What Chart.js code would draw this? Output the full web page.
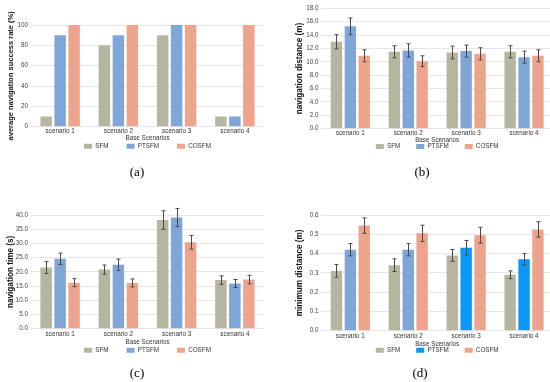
<!DOCTYPE html>
<html><head><meta charset="utf-8">
<script src="https://cdn.jsdelivr.net/npm/chart.js@4/dist/chart.umd.min.js"></script>
<style>
html,body{margin:0;padding:0;background:#fff;}
body{width:550px;height:382px;overflow:hidden;position:relative;}
canvas{position:absolute;}
.cap{position:absolute;width:60px;text-align:center;font-family:"Liberation Serif","DejaVu Serif",serif;font-size:13px;line-height:14px;color:#000;}
</style></head><body>
<canvas id="ca" width="275" height="176" style="left:0;top:0"></canvas>
<canvas id="cb" width="280" height="176" style="left:275px;top:0"></canvas>
<canvas id="cc" width="275" height="190" style="left:0;top:190px"></canvas>
<canvas id="cd" width="280" height="190" style="left:275px;top:190px"></canvas>
<div class="cap" style="left:107px;top:165px">(a)</div>
<div class="cap" style="left:392px;top:165px">(b)</div>
<div class="cap" style="left:107px;top:366px">(c)</div>
<div class="cap" style="left:390px;top:366px">(d)</div>
<script>
const categories = ['scenario 1', 'scenario 2', 'scenario 3', 'scenario 4'];
const seriesNames = ['SFM', 'PTSFM', 'COSFM'];
const xTitle = 'Base Scenarios';

// (a) average navigation success rate (%)
const successSFM   = [10, 80, 90, 10];
const successPTSFM = [90, 90, 100, 10];
const successCOSFM = [100, 100, 100, 100];
const successTicks = [0, 20, 40, 60, 80, 100];

// (b) navigation distance (m)
const distSFM      = [13.0, 11.5, 11.4, 11.5];
const distSFMErr   = [1.05, 0.9, 0.95, 0.9];
const distPTSFM    = [15.3, 11.7, 11.6, 10.7];
const distPTSFMErr = [1.25, 1.0, 0.9, 0.9];
const distCOSFM    = [10.9, 10.1, 11.2, 10.9];
const distCOSFMErr = [0.9, 0.8, 0.9, 0.9];
const distTicks = [0, 2, 4, 6, 8, 10, 12, 14, 16, 18];

// (c) navigation time (s)
const timeSFM      = [21.5, 20.8, 38.2, 17.1];
const timeSFMErr   = [2.1, 1.6, 3.3, 1.5];
const timePTSFM    = [24.6, 22.5, 39.1, 15.9];
const timePTSFMErr = [2.0, 2.0, 3.2, 1.4];
const timeCOSFM    = [16.2, 16.1, 30.4, 17.3];
const timeCOSFMErr = [1.4, 1.4, 2.4, 1.5];
const timeTicks = [0, 5, 10, 15, 20, 25, 30, 35, 40];

// (d) minimum distance (m)
const minSFM      = [0.31, 0.34, 0.39, 0.29];
const minSFMErr   = [0.033, 0.033, 0.031, 0.02];
const minPTSFM    = [0.42, 0.42, 0.43, 0.37];
const minPTSFMErr = [0.032, 0.032, 0.038, 0.03];
const minCOSFM    = [0.545, 0.505, 0.495, 0.525];
const minCOSFMErr = [0.04, 0.042, 0.041, 0.04];
const minTicks = [0, 0.1, 0.2, 0.3, 0.4, 0.5, 0.6];

const colSFM = '#b6b5a0', colPT = '#7fa6d6', colCO = '#eea48c', colPTbright = '#0a97f7';
const F = '"Liberation Sans", Arial, sans-serif';

function ds(label, data, errors, color, legendColor) {
  return {label, data, errors, backgroundColor: color, legendColor: legendColor || color,
    borderWidth: 0, categoryPercentage: 0.72, barPercentage: 0.82};
}

const errorBars = {
  id: 'errorBars',
  afterDatasetsDraw(chart) {
    const ctx = chart.ctx, y = chart.scales.y;
    chart.data.datasets.forEach((d, i) => {
      if (!d.errors) return;
      chart.getDatasetMeta(i).data.forEach((bar, j) => {
        const v = d.data[j], e = d.errors[j];
        const top = y.getPixelForValue(v + e), bot = y.getPixelForValue(v - e);
        const x = Math.round(bar.x) + 0.5;
        ctx.save();
        ctx.strokeStyle = '#4a4a4a'; ctx.lineWidth = 1;
        ctx.beginPath();
        ctx.moveTo(x, top); ctx.lineTo(x, bot);
        ctx.moveTo(x - 2, top); ctx.lineTo(x + 2, top);
        ctx.moveTo(x - 2, bot); ctx.lineTo(x + 2, bot);
        ctx.stroke();
        ctx.restore();
      });
    });
  }
};

const legendShift = {
  id: 'legendShift',
  afterLayout(chart, args, opts) {
    const lg = chart.legend;
    if (lg && opts.shift) { lg.top -= opts.shift; lg.bottom -= opts.shift; }
  }
};

function build(id, p) {
  new Chart(document.getElementById(id), {
    type: 'bar',
    data: {labels: categories, datasets: p.datasets},
    options: {
      responsive: false, animation: false, devicePixelRatio: 1,
      layout: {padding: {top: p.top, right: p.right, left: 0, bottom: 0}},
      plugins: {
        legend: {
          position: 'bottom', fullSize: false,
          labels: {
            font: {size: 6.3, family: F}, color: '#333', boxWidth: 8, boxHeight: 5, padding: p.legPad,
            generateLabels(chart) {
              const items = Chart.defaults.plugins.legend.labels.generateLabels(chart);
              items.forEach(it => {
                const d = chart.data.datasets[it.datasetIndex];
                it.fillStyle = d.legendColor; it.strokeStyle = d.legendColor; it.lineWidth = 0;
              });
              return items;
            }
          }
        },
        legendShift: {shift: p.shift},
        tooltip: {enabled: false}
      },
      scales: {
        x: {
          grid: {display: false, drawTicks: false}, border: {display: false},
          ticks: {font: {size: 6.3, family: F}, color: '#333', padding: p.xtp, maxRotation: 0, autoSkip: false},
          title: {display: true, text: xTitle, font: {size: 6.3, family: F}, color: '#333', padding: 0},
          afterFit(s) { s.height = p.xh; }
        },
        y: {
          min: 0, max: p.ticks[p.ticks.length - 1],
          afterBuildTicks(s) { s.ticks = p.ticks.map(v => ({value: v})); },
          ticks: {font: {size: 6.3, family: F}, color: '#444', padding: 3, callback: v => p.fmt(v)},
          grid: {color: '#e6e6e6', drawTicks: false}, border: {display: false},
          title: {display: true, text: p.ytitle, font: {size: p.yfs, weight: 'bold', family: F}, color: '#111',
                  padding: {top: p.ytp, bottom: 0}},
          afterFit(s) { s.width = p.yw; }
        }
      }
    },
    plugins: [errorBars, legendShift]
  });
}

const fmt0 = v => String(Math.round(v));
const fmt1 = v => Number(v).toFixed(1);

build('ca', {
  datasets: [ds(seriesNames[0], successSFM, null, colSFM), ds(seriesNames[1], successPTSFM, null, colPT), ds(seriesNames[2], successCOSFM, null, colCO)],
  ticks: successTicks, fmt: fmt0, ytitle: 'average navigation success rate (%)', yfs: 7.5,
  top: 25, right: 11, yw: 31, xh: 15, xtp: 1, legPad: 18, shift: 16.5, ytp: 6.5
});
build('cb', {
  datasets: [ds(seriesNames[0], distSFM, distSFMErr, colSFM), ds(seriesNames[1], distPTSFM, distPTSFMErr, colPT), ds(seriesNames[2], distCOSFM, distCOSFMErr, colCO)],
  ticks: distTicks, fmt: fmt1, ytitle: 'navigation distance (m)', yfs: 8.2,
  top: 8.3, right: 2, yw: 46.4, xh: 15, xtp: 1, legPad: 16, shift: 16.3, ytp: 20
});
build('cc', {
  datasets: [ds(seriesNames[0], timeSFM, timeSFMErr, colSFM), ds(seriesNames[1], timePTSFM, timePTSFMErr, colPT), ds(seriesNames[2], timeCOSFM, timeCOSFMErr, colCO)],
  ticks: timeTicks, fmt: fmt1, ytitle: 'navigation time (s)', yfs: 8.2,
  top: 25, right: 11, yw: 31, xh: 17, xtp: 2, legPad: 18, shift: 16.5, ytp: 6
});
build('cd', {
  datasets: [ds(seriesNames[0], minSFM, minSFMErr, colSFM),
             ds(seriesNames[1], minPTSFM, minPTSFMErr, [colPT, colPT, colPTbright, colPTbright], colPTbright),
             ds(seriesNames[2], minCOSFM, minCOSFMErr, colCO)],
  ticks: minTicks, fmt: fmt1, ytitle: 'minimum distance (m)', yfs: 8.2,
  top: 25, right: 2, yw: 46.4, xh: 17, xtp: 2, legPad: 16, shift: 16.5, ytp: 20
});
</script>
</body></html>
